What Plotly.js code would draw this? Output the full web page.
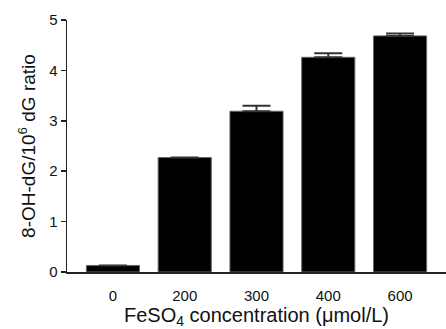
<!DOCTYPE html>
<html>
<head>
<meta charset="utf-8">
<script src="https://cdn.plot.ly/plotly-3.0.1.min.js"></script>
<style>html,body{margin:0;padding:0;background:#fff;}#chart{width:446px;height:329px;}</style>
</head>
<body>
<div id="chart"></div>
<script>
const categories = ["0", "200", "300", "400", "600"];
const ratioValues = [0.13, 2.27, 3.19, 4.26, 4.685];
const ratioErrors = [null, null, 0.11, 0.08, 0.045];
const ratioErrorsMinus = [null, null, 0, 0, 0];
const yTickVals = [0, 1, 2, 3, 4, 5];
const yTickText = ["0", "1", "2", "3", "4", "5"];

const trace = {
  type: 'bar',
  x: categories,
  y: ratioValues,
  width: 0.74,
  marker: {color: '#000000', line: {color: '#666666', width: 1}},
  error_y: {type: 'data', symmetric: false, array: ratioErrors, arrayminus: ratioErrorsMinus,
            visible: true, color: '#333333', thickness: 2, width: 14}
};

const font = {family: 'Liberation Sans, Arial, sans-serif', color: '#111111'};

const layout = {
  width: 446, height: 329,
  margin: {l: 67, r: 0, t: 20, b: 57},
  paper_bgcolor: '#ffffff', plot_bgcolor: '#ffffff',
  showlegend: false,
  font: Object.assign({size: 15}, font),
  xaxis: {
    type: 'category',
    range: [-0.64, 4.64],
    showline: true, linecolor: '#222222', linewidth: 1.5,
    ticks: '', showgrid: false, zeroline: false,
    ticklabelstandoff: 9,
    tickfont: Object.assign({size: 15}, font),
    title: {text: 'FeSO<sub>4</sub> concentration (μmol/L)', font: Object.assign({size: 20}, font), standoff: 7}
  },
  yaxis: {
    range: [0, 5],
    tickvals: yTickVals, ticktext: yTickText,
    showline: true, linecolor: '#222222', linewidth: 1.5,
    ticks: 'outside', ticklen: 5, tickwidth: 1.5, tickcolor: '#222222',
    showgrid: false, zeroline: false,
    tickfont: Object.assign({size: 15}, font),
    title: {text: '8-OH-dG/10<sup>6</sup> dG ratio', font: Object.assign({size: 19}, font), standoff: 8}
  }
};

Plotly.newPlot('chart', [trace], layout, {displayModeBar: false, staticPlot: true});
</script>
</body>
</html>
